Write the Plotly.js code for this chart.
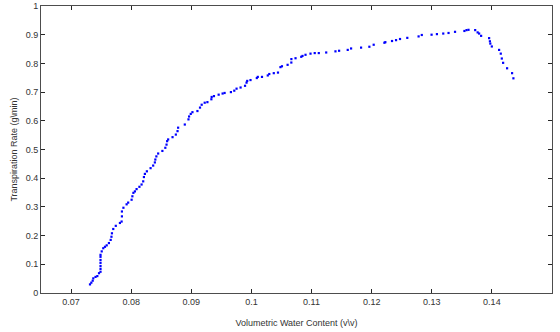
<!DOCTYPE html>
<html>
<head>
<meta charset="utf-8">
<script src="https://cdn.plot.ly/plotly-3.0.1.min.js"></script>
<style>html,body{margin:0;padding:0;background:#fff;}#chart{width:560px;height:332px;}</style>
</head>
<body>
<div id="chart"></div>
<script>
const waterContent = [
0.07315,0.07337,0.0736,0.0737,0.07407,0.07437,0.07465,
0.0749,0.0749,0.0749,0.0749,0.0749,0.0749,0.0749,
0.0751,0.07536,0.07564,0.07593,0.0763,0.07659,0.07672,0.0768,0.07702,0.07744,
0.07813,0.07841,0.07846,0.07846,0.07871,0.07924,0.0795,0.08007,0.0802,0.08037,
0.08062,0.0809,0.08137,0.08173,0.082,0.08212,0.08228,0.08261,0.08323,0.08366,
0.08394,0.08402,0.08419,0.08449,0.08519,0.08568,0.08588,0.08598,0.08615,0.08688,
0.08743,0.08771,0.08781,0.08892,0.08953,0.08963,0.08991,0.09019,0.09102,0.09145,
0.09173,0.09223,0.09268,0.09334,0.09339,0.09377,0.09455,0.09521,0.09554,0.09659,
0.09715,0.09753,0.0982,0.09894,0.09919,0.0993,0.09985,0.1009,0.10106,0.10176,
0.10272,0.10297,0.10372,0.10442,0.10483,0.10508,0.10602,0.10664,0.10665,0.10734,
0.10829,0.1085,0.109,0.10983,0.11053,0.11121,0.11244,0.11398,0.11459,0.11602,
0.11658,0.11824,0.11962,0.12034,0.12212,0.12228,0.12339,0.12406,0.12472,0.12593,
0.12781,0.12834,0.12997,0.13086,0.13191,0.13279,0.13387,0.13543,0.13578,0.13611,
0.13722,0.13763,0.13788,0.13821,0.13954,0.13967,0.13974,0.13999,0.1412,0.14148,
0.14165,0.14187,0.14253,0.14336,0.14358
];
const transpiration = [
0.030,0.036,0.043,0.051,0.056,0.059,0.069,
0.074,0.084,0.094,0.105,0.115,0.126,0.133,
0.145,0.156,0.161,0.166,0.174,0.185,0.196,0.208,0.223,0.234,
0.244,0.249,0.267,0.284,0.297,0.309,0.315,0.325,0.337,0.349,
0.354,0.362,0.370,0.378,0.389,0.404,0.415,0.424,0.435,0.444,
0.455,0.465,0.476,0.486,0.495,0.506,0.517,0.529,0.535,0.543,
0.552,0.564,0.576,0.587,0.605,0.615,0.624,0.630,0.634,0.646,
0.656,0.663,0.665,0.675,0.683,0.686,0.691,0.695,0.697,0.700,
0.705,0.712,0.716,0.722,0.733,0.739,0.742,0.749,0.753,0.753,
0.758,0.763,0.766,0.768,0.787,0.790,0.795,0.803,0.815,0.818,
0.823,0.826,0.830,0.834,0.836,0.836,0.838,0.842,0.844,0.847,
0.852,0.855,0.858,0.865,0.872,0.874,0.878,0.881,0.885,0.889,
0.894,0.899,0.900,0.902,0.904,0.906,0.910,0.913,0.916,0.917,
0.916,0.908,0.904,0.896,0.888,0.877,0.869,0.859,0.847,0.834,
0.817,0.802,0.783,0.766,0.748
];
const xTicks = [0.07,0.08,0.09,0.1,0.11,0.12,0.13,0.14,0.15];
const xTickLabels = ['0.07','0.08','0.09','0.1','0.11','0.12','0.13','0.14','0.15'];
const yTicks = [0,0.1,0.2,0.3,0.4,0.5,0.6,0.7,0.8,0.9,1];
const yTickLabels = ['0','0.1','0.2','0.3','0.4','0.5','0.6','0.7','0.8','0.9','1'];

const axisCommon = {
  showgrid:false, zeroline:false, showline:true, mirror:'ticks',
  linecolor:'#4d4d4d', linewidth:1, ticks:'inside', ticklen:4, tickcolor:'#262626', tickwidth:1,
  tickfont:{family:'Liberation Sans, Arial, sans-serif', size:9, color:'#333'}
};
const trace = {
  x: waterContent, y: transpiration, type:'scatter', mode:'markers',
  marker:{color:'#0000ff', size:2.2, symbol:'square', line:{width:0}},
  hoverinfo:'skip'
};
const layout = {
  width:560, height:332,
  margin:{l:41, r:8, t:6, b:39},
  paper_bgcolor:'#fff', plot_bgcolor:'#fff',
  showlegend:false,
  xaxis:Object.assign({}, axisCommon, {
    range:[0.065,0.15], tickvals:xTicks, ticktext:xTickLabels,
    title:{text:'Volumetric Water Content (v\\v)', font:{family:'Liberation Sans, Arial, sans-serif', size:9, color:'#333'}, standoff:13}
  }),
  yaxis:Object.assign({}, axisCommon, {
    range:[0,1], tickvals:yTicks, ticktext:yTickLabels,
    title:{text:'Transpiration Rate (g\\min)', font:{family:'Liberation Sans, Arial, sans-serif', size:9, color:'#333'}, standoff:6}
  })
};
Plotly.newPlot('chart',[trace],layout,{displayModeBar:false, staticPlot:true});
</script>
</body>
</html>
